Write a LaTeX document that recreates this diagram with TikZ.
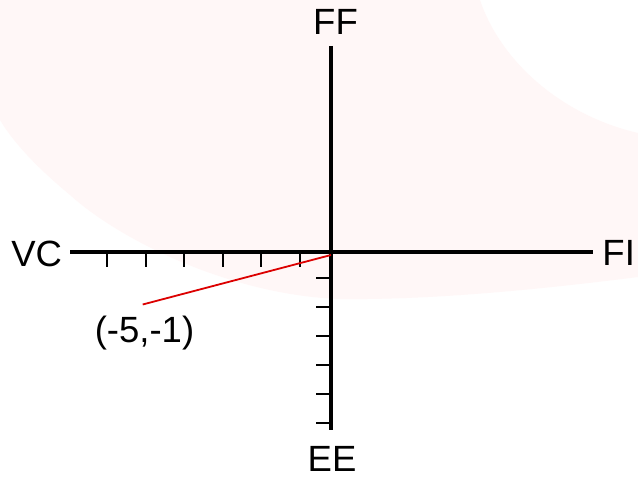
\documentclass[tikz,border=0pt]{standalone}
\usepackage{fontspec}
\setmainfont{Liberation Sans}
\definecolor{bgpink}{RGB}{255,247,247}
\definecolor{linered}{RGB}{220,0,0}
\begin{document}
\begin{tikzpicture}[x=1pt,y=-1pt,
  axis/.style={line width=3.6pt},
  tick/.style={line width=1.8pt},
  lbl/.style={anchor=base,inner sep=0pt,font=\fontsize{36.5}{42}\selectfont},
  pointer/.style={draw=linered,line width=1.8pt}]
\useasboundingbox (0,0) rectangle (638,478);
\fill[white] (0,0) rectangle (638,478);
% faint background shape
\fill[bgpink] (0,0) -- (480,0)
  .. controls (500,60) and (560,115) .. (638,133)
  -- (638,277)
  .. controls (520,292) and (420,300) .. (340,299)
  .. controls (230,295) and (120,240) .. (70,195)
  .. controls (40,170) and (15,145) .. (0,120) -- cycle;
% axis ends
\coordinate (O) at (331,252);
\coordinate (L) at (70,252);
\coordinate (R) at (593,252);
\coordinate (T) at (331,46);
\coordinate (B) at (331,430);
\draw[axis] (L) -- (R);
\draw[axis] (T) -- (B);
% ticks
\foreach \x in {107.3,146,184.3,222.7,261,300}
  \draw[tick] (\x,252) -- (\x,266.7);
\foreach \y in {277.7,307,335.7,364.7,393.7,422.7}
  \draw[tick] (316,\y) -- (331,\y);
% labels
\node[lbl] (ff) at (335.5,35) {FF};
\node[lbl] (vc) at (36.7,266.5) {VC};
\node[lbl] (fi) at (618.7,265.7) {FI};
\node[lbl] (ee) at (332,472) {EE};
\node[lbl] (pt) at (144.5,343) {(-5,-1)};
% pointer
\coordinate (ps) at (142.7,304.5);
\coordinate (pe) at (331,255);
\draw[pointer] (ps) -- (pe);
\end{tikzpicture}
\end{document}
